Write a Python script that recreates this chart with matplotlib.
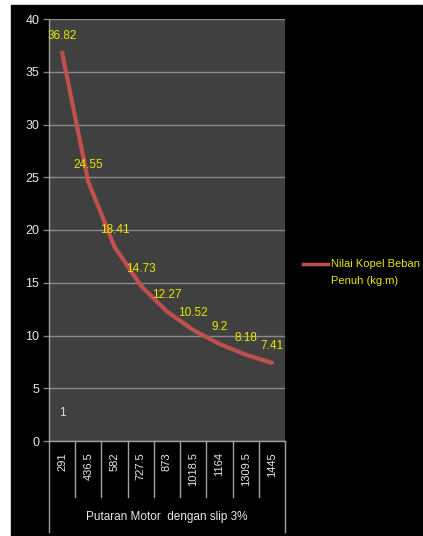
import numpy as np
import matplotlib
matplotlib.use("Agg")
import matplotlib.pyplot as plt
from matplotlib.lines import Line2D
from matplotlib.patches import Rectangle
import matplotlib.transforms as mtransforms

# putaran motor (rpm) dan kopel beban penuh (kg.m)
putaran = ["291", "436.5", "582", "727.5", "873", "1018.5", "1164", "1309.5", "1445"]
kopel = [36.82, 24.55, 18.41, 14.73, 12.27, 10.52, 9.2, 8.18, 7.41]
y_ticks = [0, 5, 10, 15, 20, 25, 30, 35, 40]

plt.rcParams['font.family'] = ['Liberation Sans', 'DejaVu Sans']

W, H = 423, 536
fig = plt.figure(figsize=(W/100, H/100), dpi=100)
fig.patch.set_facecolor('white')

# black chart background
fig.patches.append(Rectangle((11/W, 0), (422-11)/W, (536-5)/H,
                             transform=fig.transFigure, color='black', zorder=-5))

ax = fig.add_axes([49/W, (H-441)/H, (285-49)/W, (441-19)/H])
ax.set_zorder(2)
ax.set_facecolor('#404040')
for s in ax.spines.values():
    s.set_visible(False)

x = np.arange(len(putaran))
ax.plot(x, kopel, color='#c0504d', lw=3, solid_capstyle='round', zorder=3)

for xi, v in zip(x, kopel):
    ax.annotate(f"{v:g}", (xi, v), xytext=(0, 12), textcoords='offset points',
                ha='center', va='center', color='#e8e800', fontsize=8.5, zorder=4)

ax.text(0, 2.7, "1", color='#d8d8d8', fontsize=8.5, ha='center', va='center')

ax.set_xlim(-0.5, len(putaran) - 0.5)
ax.set_ylim(0, 40)
ax.set_yticks(y_ticks)
ax.yaxis.grid(True, color='#8a8a8a', lw=1)
ax.set_axisbelow(True)
ax.tick_params(axis='y', colors='#808080', labelcolor='#e8e8e8', length=4,
               width=1, labelsize=9, pad=3)

ax.set_xticks(x)
ax.set_xticklabels(putaran, rotation=90, color='#e8e8e8', fontsize=8)
ax.tick_params(axis='x', length=0, pad=8)

# category axis with boundary lines
trans = mtransforms.blended_transform_factory(ax.transData, ax.transAxes)
ax.plot([-0.5, len(putaran) - 0.5], [0, 0], color='#a0a0a0', lw=1,
        transform=trans, clip_on=False)
for b in np.arange(-0.5, len(putaran), 1.0):
    end = -91/422 if b in (-0.5, len(putaran) - 0.5) else -56/422
    ax.plot([b, b], [0, end], color='#a0a0a0', lw=1, transform=trans, clip_on=False)
ax.plot([-0.5, -0.5], [0, 1], color='#a0a0a0', lw=1, transform=trans, clip_on=False)

fig.text(167/W, (H-517)/H, "Putaran Motor  dengan slip 3%", color='#e8e8e8',
         fontsize=8.5, ha='center', va='center')

# legend
fig.lines.append(Line2D([303/W, 328/W], [(H-264)/H, (H-264)/H], color='#c0504d',
                        lw=2.5, transform=fig.transFigure))
fig.text(331/W, (H-264)/H, "Nilai Kopel Beban", color='#e8e800', fontsize=8,
         ha='left', va='center')
fig.text(331/W, (H-281)/H, "Penuh (kg.m)", color='#e8e800', fontsize=8,
         ha='left', va='center')

fig.savefig("out.png", dpi=100, facecolor=fig.get_facecolor())
